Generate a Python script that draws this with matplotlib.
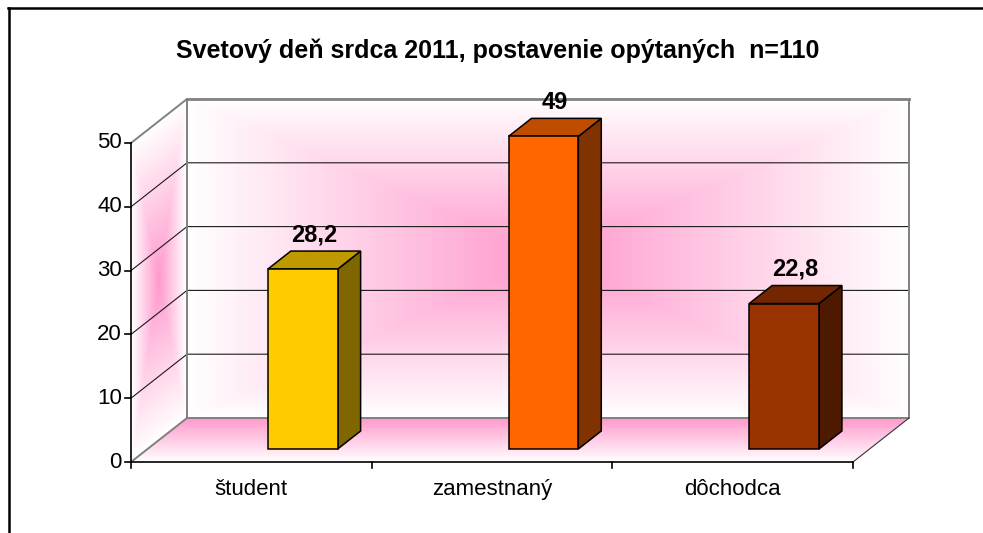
import matplotlib
matplotlib.use("Agg")
import matplotlib.pyplot as plt
import numpy as np
from matplotlib.patches import Polygon
from matplotlib.transforms import Affine2D
from matplotlib.lines import Line2D

# ---- data ------------------------------------------------------------------
title = "Svetový deň srdca 2011, postavenie opýtaných  n=110"
categories = ["študent", "zamestnaný", "dôchodca"]
values = [28.2, 49, 22.8]
value_labels = ["28,2", "49", "22,8"]
y_ticks = [0, 10, 20, 30, 40, 50]
front_colors = ["#FFCC00", "#FF6600", "#993300"]

PINK = np.array([255, 153, 204]) / 255.0
WHITE = np.ones(3)
GRAYLINE = "#808080"

plt.rcParams["font.family"] = ["Liberation Sans", "DejaVu Sans"]

W, H = 983, 533
fig = plt.figure(figsize=(W / 100, H / 100), dpi=100)
ax = fig.add_axes([0, 0, 1, 1])
ax.set_axis_off()

# front plane in pixels: x 0..3 -> 131..853, y 0..50 -> 462..143
PX0, PX1, PY0, PY1 = 131, 853, 462, 143
ncat = len(categories)
ymax = y_ticks[-1]
sx = (PX1 - PX0) / ncat
sy = (PY0 - PY1) / ymax
DX, DY = 56 / sx, 44 / sy          # full depth of the plot box (data units)
Z0, Z1 = 0.295, 0.705              # depth range of the columns
BAR_OFF, BAR_W = 0.5, 0.29


def rect_gradient(nx, ny):
    u = np.linspace(-1, 1, nx)
    v = np.linspace(-1, 1, ny)
    U, V = np.meshgrid(u, v)
    t = np.maximum(np.abs(U), np.abs(V))[..., None]
    return PINK * (1 - t) + WHITE * t


# back wall
ax.imshow(rect_gradient(300, 140), extent=(DX, ncat + DX, DY, ymax + DY),
          origin="lower", aspect="auto", interpolation="bilinear", zorder=1)

# side wall (parallelogram)
side_poly = Polygon([(0, 0), (DX, DY), (DX, ymax + DY), (0, ymax)],
                    closed=True, transform=ax.transData, fc="none", ec="none")
ax.add_patch(side_poly)
im = ax.imshow(rect_gradient(40, 200), extent=(0, 1, 0, 1), origin="lower",
               aspect="auto", interpolation="bilinear", zorder=1)
im.set_transform(Affine2D.from_values(DX, DY, 0, ymax, 0, 0) + ax.transData)
im.set_clip_path(side_poly)

# floor (pink at the back, white at the front)
floor_poly = Polygon([(0, 0), (ncat, 0), (ncat + DX, DY), (DX, DY)],
                     closed=True, transform=ax.transData, fc="none", ec="none")
ax.add_patch(floor_poly)
z = np.linspace(0, 1, 100)[:, None, None]
floor = PINK * z + WHITE * (1 - z)
floor = np.repeat(floor, 4, axis=1)
im2 = ax.imshow(floor, extent=(0, 1, 0, 1), origin="lower", aspect="auto",
                interpolation="bilinear", zorder=1)
im2.set_transform(Affine2D.from_values(ncat, 0, DX, DY, 0, 0) + ax.transData)
im2.set_clip_path(floor_poly)

# gridlines on the side wall and back wall
for v in y_ticks[1:-1]:
    ax.plot([0, DX, ncat + DX], [v, v + DY, v + DY], color="#1a1a1a",
            lw=0.8, zorder=2)

# wall edges
ax.plot([0, DX, DX, ncat + DX, ncat + DX], [ymax, ymax + DY, DY, DY, ymax + DY],
        color=GRAYLINE, lw=1.4, zorder=2)
ax.plot([DX, ncat + DX], [ymax + DY, ymax + DY], color=GRAYLINE, lw=2, zorder=2)
ax.plot([0, DX], [0, DY], color=GRAYLINE, lw=1.4, zorder=2)
ax.plot([ncat, ncat + DX], [0, DY], color="#333333", lw=0.8, zorder=2)

# axes lines and ticks
ax.plot([0, 0], [0, ymax], color="black", lw=1.2, zorder=3)
ax.plot([0, ncat], [0, 0], color="black", lw=1.2, zorder=3)
for v in y_ticks:
    ax.plot([-6 / sx, 0], [v, v], color="black", lw=1.2, zorder=3)
    ax.annotate(str(v), (0, v), xytext=(-6.5, 0), textcoords="offset points",
                ha="right", va="center", fontsize=16)
for i in range(ncat + 1):
    ax.plot([i, i], [0, -6 / sy], color="black", lw=1.2, zorder=3)
for i, c in enumerate(categories):
    ax.annotate(c, (i + 0.5, 0), xytext=(0, -24), textcoords="offset points",
                ha="center", va="baseline", fontsize=16)

# columns
dz = Z1 - Z0
for i, (v, col, lab) in enumerate(zip(values, front_colors, value_labels)):
    rgb = np.array(matplotlib.colors.to_rgb(col))
    xl = i + BAR_OFF + Z0 * DX
    xr = xl + BAR_W
    yb = Z0 * DY
    ddx, ddy = dz * DX, dz * DY
    front = [(xl, yb), (xr, yb), (xr, yb + v), (xl, yb + v)]
    top = [(xl, yb + v), (xr, yb + v), (xr + ddx, yb + v + ddy), (xl + ddx, yb + v + ddy)]
    side = [(xr, yb), (xr + ddx, yb + ddy), (xr + ddx, yb + v + ddy), (xr, yb + v)]
    for pts, shade in ((side, 0.5), (top, 0.75), (front, 1.0)):
        ax.add_patch(Polygon(pts, closed=True, facecolor=rgb * shade,
                             edgecolor="black", lw=1.1, zorder=4,
                             joinstyle="miter"))
    ax.annotate(lab, (xl + BAR_W / 2 + ddx / 2, yb + v + ddy), xytext=(0, 7),
                textcoords="offset points", ha="center", va="baseline",
                fontsize=17, fontweight="bold", zorder=5)

ax.set_xlim(-PX0 / sx, (W - PX0) / sx)
ax.set_ylim(-(H - PY0) / sy, PY0 / sy)

fig.text(497.5 / W, 1 - 51 / H, title, ha="center", va="center",
         fontsize=18, fontweight="bold")

# outer frame (top and left edges)
fig.add_artist(Line2D([8 / W, 1], [1 - 7.5 / H, 1 - 7.5 / H], color="black", lw=1.8))
fig.add_artist(Line2D([9 / W, 9 / W], [0, 1 - 7.5 / H], color="black", lw=1.8))

fig.savefig("out.png", dpi=100)
